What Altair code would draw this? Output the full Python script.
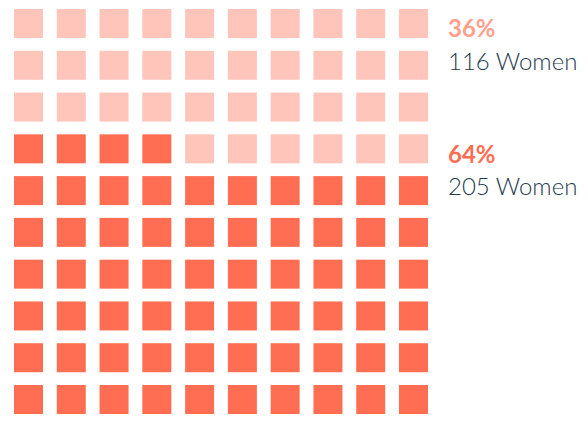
import altair as alt
import pandas as pd

# Data
rows = 10
cols = 10
counts = [36, 64]
pcts = ["36%", "64%"]
women = ["116 Women", "205 Women"]

cells = []
order = []
for r in range(rows - 1, -1, -1):
    for c in range(cols):
        order.append((r, c))
idx = 0
for g, n in zip(["dark", "light"], [counts[1], counts[0]]):
    for _ in range(n):
        r, c = order[idx]
        cells.append({"row": r, "col": c, "group": g})
        idx += 1
df = pd.DataFrame(cells)

labels = pd.DataFrame({
    "text": [pcts[0], women[0], pcts[1], women[1]],
    "kind": ["pct_light", "count", "pct_dark", "count"],
    "y": [29, 62, 155, 187],
})

xs = alt.Scale(domain=[0, 9], range=[20.5, 405.5])
ys = alt.Scale(domain=[0, 9], range=[15.5, 391.5])

squares = alt.Chart(df).mark_square(size=841, opacity=1, shape="square").encode(
    x=alt.X("col:Q", scale=xs, axis=None),
    y=alt.Y("row:Q", scale=ys, axis=None),
    color=alt.Color("group:N", scale=alt.Scale(domain=["light", "dark"], range=["#FFC4BA", "#FF6E52"]), legend=None),
)

pct = alt.Chart(labels[labels.kind != "count"]).mark_text(
    align="left", baseline="alphabetic", font="Lato", fontSize=24, fontWeight="bold"
).encode(
    x=alt.value(440),
    y=alt.Y("y:Q", scale=None),
    text="text:N",
    color=alt.Color("kind:N", scale=alt.Scale(domain=["pct_light", "pct_dark"], range=["#FFA08D", "#FF6E52"]), legend=None),
)

cnt = alt.Chart(labels[labels.kind == "count"]).mark_text(
    align="left", baseline="alphabetic", font="Lato", fontSize=24, fontWeight=300, color="#253A50"
).encode(
    x=alt.value(440),
    y=alt.Y("y:Q", scale=None),
    text="text:N",
)

chart = alt.layer(squares, pct, cnt).resolve_scale(color="independent").properties(
    width=572, height=406, padding=0, autosize=alt.AutoSizeParams(type="none")
).configure_view(stroke=None)

chart.save("out.html", embed_options={"renderer": "svg", "actions": False})
